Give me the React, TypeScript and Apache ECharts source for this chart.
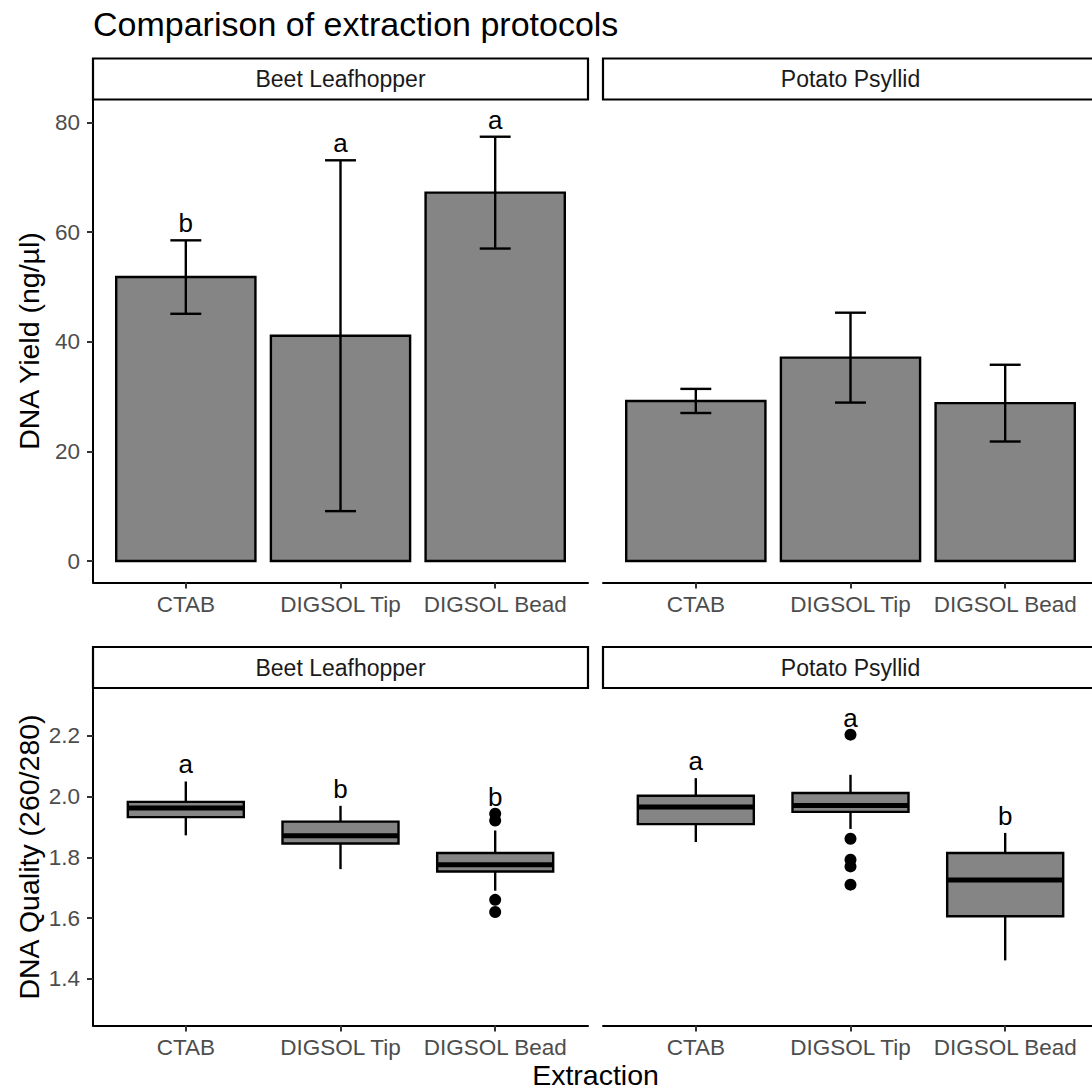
import React, { useEffect, useRef } from "react";
import * as echarts from "echarts";

// ---------- data ----------
const categories = ["CTAB", "DIGSOL Tip", "DIGSOL Bead"];
const facetNames = ["Beet Leafhopper", "Potato Psyllid"];

// DNA yield (ng/µl): mean and error
const yieldMeanBeet = [51.8, 41.1, 67.2];
const yieldErrBeet = [6.7, 32.0, 10.2];
const yieldMeanPotato = [29.2, 37.1, 28.8];
const yieldErrPotato = [2.2, 8.2, 7.0];
const yieldLettersBeet = ["b", "a", "a"];
const yieldTicks = [0, 20, 40, 60, 80];

// DNA quality (260/280): box statistics
const qMinBeet = [1.872, 1.761, 1.69];
const qQ1Beet = [1.932, 1.845, 1.753];
const qMedBeet = [1.962, 1.871, 1.775];
const qQ3Beet = [1.982, 1.917, 1.814];
const qMaxBeet = [2.049, 1.969, 1.888];
const qOutliersBeet = [
  [3, 1.943],
  [3, 1.921],
  [3, 1.66],
  [3, 1.62],
];
const qLettersBeet = ["a", "b", "b"];

const qMinPotato = [1.85, 1.893, 1.461];
const qQ1Potato = [1.909, 1.949, 1.606];
const qMedPotato = [1.965, 1.97, 1.725];
const qQ3Potato = [2.002, 2.011, 1.814];
const qMaxPotato = [2.06, 2.071, 1.88];
const qOutliersPotato = [
  [2, 2.203],
  [2, 1.861],
  [2, 1.792],
  [2, 1.77],
  [2, 1.71],
];
const qLettersPotato = ["a", "a", "b"];
const qualityTicks = [1.4, 1.6, 1.8, 2.0, 2.2];

// ---------- style ----------
const FONT = '"Liberation Sans", Arial, Helvetica, sans-serif';
const FILL = "#858585";
const LW = 2.4;
const TICK_FS = 22.5;
const AXIS_TITLE_FS = 28.5;

const grids = [
  { left: 93, top: 100, width: 495, height: 482.5 },
  { left: 603, top: 100, width: 495, height: 482.5 },
  { left: 93, top: 689, width: 495, height: 336.5 },
  { left: 603, top: 689, width: 495, height: 336.5 },
];

function xAxisFor(gi: number) {
  return {
    type: "value",
    gridIndex: gi,
    min: 0.4,
    max: 3.6,
    position: "bottom",
    splitLine: { show: false },
    axisLine: { show: true, onZero: false, lineStyle: { color: "#000", width: 2 } },
    axisTick: { show: true, customValues: [1, 2, 3], length: 6, lineStyle: { color: "#333", width: 2 } },
    axisLabel: {
      customValues: [1, 2, 3],
      formatter: (v: number) => categories[Math.round(v) - 1] ?? "",
      fontSize: TICK_FS,
      color: "#4D4D4D",
      fontFamily: FONT,
      margin: 10,
    },
  };
}

function yAxisFor(gi: number, min: number, max: number, ticks: number[], show: boolean, dec: number) {
  return {
    type: "value",
    gridIndex: gi,
    min,
    max,
    show,
    splitLine: { show: false },
    axisLine: { show: true, lineStyle: { color: "#000", width: 2 } },
    axisTick: { show: true, customValues: ticks, length: 6, lineStyle: { color: "#333", width: 2 } },
    axisLabel: {
      customValues: ticks,
      formatter: (v: number) => v.toFixed(dec),
      fontSize: TICK_FS,
      color: "#4D4D4D",
      fontFamily: FONT,
      margin: 13,
    },
  };
}

function barSeries(gi: number, means: number[], errs: number[]) {
  return {
    type: "custom",
    xAxisIndex: gi,
    yAxisIndex: gi,
    encode: { x: 0, y: 1 },
    data: means.map((m, i) => [i + 1, m, errs[i]]),
    renderItem: (params: any, api: any) => {
      const x = api.value(0);
      const m = api.value(1);
      const e = api.value(2);
      const a = api.coord([x - 0.45, m]);
      const b = api.coord([x + 0.45, 0]);
      const lo = api.coord([x, m - e]);
      const hi = api.coord([x, m + e]);
      const cl = api.coord([x - 0.1, m])[0];
      const cr = api.coord([x + 0.1, m])[0];
      const ls = { stroke: "#000", lineWidth: LW };
      return {
        type: "group",
        children: [
          {
            type: "rect",
            shape: { x: a[0], y: a[1], width: b[0] - a[0], height: b[1] - a[1] },
            style: { fill: FILL, stroke: "#000", lineWidth: LW },
          },
          { type: "line", shape: { x1: hi[0], y1: hi[1], x2: lo[0], y2: lo[1] }, style: ls },
          { type: "line", shape: { x1: cl, y1: hi[1], x2: cr, y2: hi[1] }, style: ls },
          { type: "line", shape: { x1: cl, y1: lo[1], x2: cr, y2: lo[1] }, style: ls },
        ],
      };
    },
  };
}

function boxSeries(gi: number, mn: number[], q1: number[], md: number[], q3: number[], mx: number[]) {
  return {
    type: "custom",
    xAxisIndex: gi,
    yAxisIndex: gi,
    encode: { x: 0, y: [1, 2, 3, 4, 5] },
    data: mn.map((v, i) => [i + 1, v, q1[i], md[i], q3[i], mx[i]]),
    renderItem: (params: any, api: any) => {
      const x = api.value(0);
      const pMin = api.coord([x, api.value(1)]);
      const pQ1 = api.coord([x - 0.375, api.value(2)]);
      const pMed = api.coord([x, api.value(3)]);
      const pQ3 = api.coord([x + 0.375, api.value(4)]);
      const pMax = api.coord([x, api.value(5)]);
      const ls = { stroke: "#000", lineWidth: LW };
      return {
        type: "group",
        children: [
          { type: "line", shape: { x1: pMax[0], y1: pMax[1], x2: pMax[0], y2: pQ3[1] }, style: ls },
          { type: "line", shape: { x1: pMin[0], y1: pMin[1], x2: pMin[0], y2: pQ1[1] }, style: ls },
          {
            type: "rect",
            shape: { x: pQ1[0], y: pQ3[1], width: pQ3[0] - pQ1[0], height: pQ1[1] - pQ3[1] },
            style: { fill: FILL, stroke: "#000", lineWidth: LW },
          },
          { type: "line", shape: { x1: pQ1[0], y1: pMed[1], x2: pQ3[0], y2: pMed[1] }, style: { stroke: "#000", lineWidth: 5 } },
        ],
      };
    },
  };
}

function outlierSeries(gi: number, pts: number[][]) {
  return {
    type: "scatter",
    xAxisIndex: gi,
    yAxisIndex: gi,
    symbol: "circle",
    symbolSize: 12,
    itemStyle: { color: "#000", opacity: 1 },
    data: pts,
  };
}

function letterSeries(gi: number, ys: number[], letters: string[]) {
  return {
    type: "scatter",
    xAxisIndex: gi,
    yAxisIndex: gi,
    symbolSize: 0.1,
    itemStyle: { color: "rgba(0,0,0,0)", opacity: 1 },
    label: {
      show: true,
      position: "top",
      distance: 4,
      fontSize: 26,
      color: "#000",
      opacity: 1,
      fontFamily: FONT,
      formatter: (p: any) => letters[p.dataIndex],
    },
    data: ys.map((y, i) => [i + 1, y]),
  };
}

function maxWithOutliers(mx: number[], outs: number[][]) {
  return mx.map((m, i) => {
    let v = m;
    outs.forEach((o) => {
      if (o[0] === i + 1 && o[1] > v) v = o[1];
    });
    return v;
  });
}

export default function App() {
  const ref = useRef<HTMLDivElement>(null);
  useEffect(() => {
    if (!ref.current) return;
    const chart = echarts.init(ref.current, null, { renderer: "svg" });

    const stripRects = [
      { x: 93, y: 58.5, w: 495, h: 41, label: facetNames[0] },
      { x: 603, y: 58.5, w: 495, h: 41, label: facetNames[1] },
      { x: 93, y: 647, w: 495, h: 41, label: facetNames[0] },
      { x: 603, y: 647, w: 495, h: 41, label: facetNames[1] },
    ];
    const graphics: any[] = [];
    stripRects.forEach((s) => {
      graphics.push({
        type: "rect",
        shape: { x: s.x, y: s.y, width: s.w, height: s.h },
        style: { fill: "#fff", stroke: "#000", lineWidth: 2.2 },
        z: 10,
      });
      graphics.push({
        type: "text",
        x: s.x + s.w / 2,
        y: s.y + s.h / 2,
        style: { text: s.label, fontSize: 23, fill: "#1A1A1A", fontFamily: FONT, align: "center", verticalAlign: "middle" },
        z: 11,
      });
    });
    graphics.push({
      type: "text",
      x: 93,
      y: 23.5,
      style: { text: "Comparison of extraction protocols", fontSize: 34, fill: "#000", fontFamily: FONT, align: "left", verticalAlign: "middle" },
    });
    graphics.push({
      type: "text",
      x: 29,
      y: 341,
      rotation: Math.PI / 2,
      style: { text: "DNA Yield (ng/µl)", fontSize: AXIS_TITLE_FS, fill: "#000", fontFamily: FONT, align: "center", verticalAlign: "middle" },
    });
    graphics.push({
      type: "text",
      x: 29,
      y: 857,
      rotation: Math.PI / 2,
      style: { text: "DNA Quality (260/280)", fontSize: AXIS_TITLE_FS, fill: "#000", fontFamily: FONT, align: "center", verticalAlign: "middle" },
    });
    graphics.push({
      type: "text",
      x: 595.5,
      y: 1075,
      style: { text: "Extraction", fontSize: AXIS_TITLE_FS, fill: "#000", fontFamily: FONT, align: "center", verticalAlign: "middle" },
    });

    const option: any = {
      animation: false,
      backgroundColor: "#fff",
      grid: grids.map((g) => ({ ...g, containLabel: false, outerBoundsMode: "none" })),
      xAxis: [0, 1, 2, 3].map((i) => xAxisFor(i)),
      yAxis: [
        yAxisFor(0, -3.92, 84.1, yieldTicks, true, 0),
        yAxisFor(1, -3.92, 84.1, yieldTicks, false, 0),
        yAxisFor(2, 1.247, 2.353, qualityTicks, true, 1),
        yAxisFor(3, 1.247, 2.353, qualityTicks, false, 1),
      ],
      series: [
        barSeries(0, yieldMeanBeet, yieldErrBeet),
        barSeries(1, yieldMeanPotato, yieldErrPotato),
        letterSeries(0, yieldMeanBeet.map((m, i) => m + yieldErrBeet[i]), yieldLettersBeet),
        boxSeries(2, qMinBeet, qQ1Beet, qMedBeet, qQ3Beet, qMaxBeet),
        boxSeries(3, qMinPotato, qQ1Potato, qMedPotato, qQ3Potato, qMaxPotato),
        outlierSeries(2, qOutliersBeet),
        outlierSeries(3, qOutliersPotato),
        letterSeries(2, maxWithOutliers(qMaxBeet, qOutliersBeet), qLettersBeet),
        letterSeries(3, maxWithOutliers(qMaxPotato, qOutliersPotato), qLettersPotato),
      ],
      graphic: graphics,
    };
    chart.setOption(option);
    return () => chart.dispose();
  }, []);
  return <div ref={ref} style={{ position: "absolute", left: 0, top: 0, width: 1092, height: 1090 }} />;
}
